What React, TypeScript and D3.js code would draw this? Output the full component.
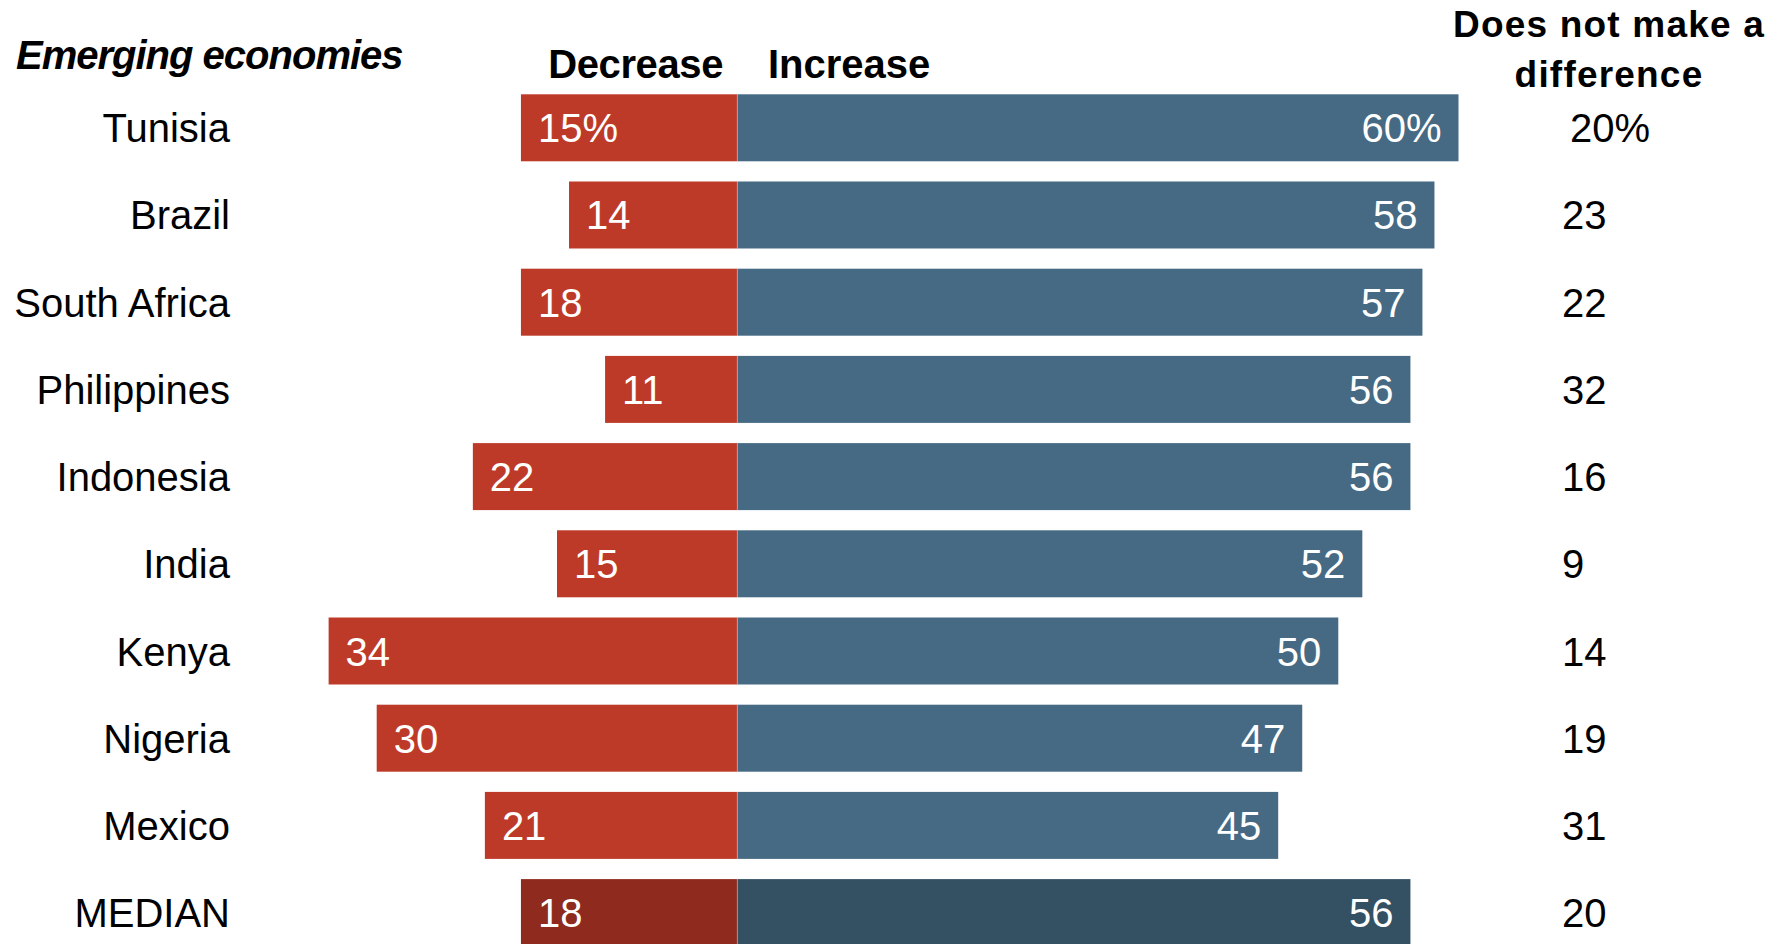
import React from "react";
import * as d3 from "d3";

const countries = ["Tunisia", "Brazil", "South Africa", "Philippines", "Indonesia", "India", "Kenya", "Nigeria", "Mexico", "MEDIAN"];
// Labels as printed
const decrease = [15, 14, 18, 11, 22, 15, 34, 30, 21, 18];
const increase = [60, 58, 57, 56, 56, 52, 50, 47, 45, 56];
const noDifference = [20, 23, 22, 32, 16, 9, 14, 19, 31, 20];
// Bar lengths as drawn in the reference (Tunisia's red bar is drawn at 18)
const decreaseBars = [18, 14, 18, 11, 22, 15, 34, 30, 21, 18];

const W = 1770;
const H = 944;
const FONT = "'Liberation Sans', Arial, Helvetica, sans-serif";

export default function App() {
  const x = d3.scaleLinear().domain([0, 60]).range([737.3, 1458.5]);
  const y = d3
    .scaleBand<string>()
    .domain(countries)
    .range([84.2, 84.2 + 872])
    .paddingInner(0.2317)
    .paddingOuter(0.1158);
  const bw = y.bandwidth();
  const isMedian = (c: string) => c === "MEDIAN";

  return (
    <svg
      width={W}
      height={H}
      style={{ position: "absolute", left: 0, top: 0, background: "#fff" }}
      fontFamily={FONT}
    >
      <text x={16} y={69} fontSize={40} fontWeight="bold" fontStyle="italic" letterSpacing={-1} fill="#000">
        Emerging economies
      </text>
      <text x={723} y={78} fontSize={40} fontWeight="bold" textAnchor="end" letterSpacing={-0.4} fill="#000">
        Decrease
      </text>
      <text x={768} y={78} fontSize={40} fontWeight="bold" textAnchor="start" letterSpacing={0} fill="#000">
        Increase
      </text>
      <text x={1609} y={37} fontSize={37} fontWeight="bold" textAnchor="middle" letterSpacing={1.2} fill="#000">
        Does not make a
      </text>
      <text x={1609} y={87} fontSize={37} fontWeight="bold" textAnchor="middle" letterSpacing={1.2} fill="#000">
        difference
      </text>

      {countries.map((c, i) => {
        const top = y(c) as number;
        const cy = top + bw / 2;
        const base = cy + 14.5;
        const med = isMedian(c);
        const x0 = x(0);
        const xl = x0 - (x(decreaseBars[i]) - x0);
        const xr = x(increase[i]);
        const pct = i === 0 ? "%" : "";
        return (
          <g key={c}>
            <rect x={xl} y={top} width={x0 - xl} height={bw} fill={med ? "#8E2A1E" : "#BE3A28"} />
            <rect x={x0} y={top} width={xr - x0} height={bw} fill={med ? "#345063" : "#466A84"} />
            <line x1={x0} x2={x0} y1={top} y2={top + bw} stroke="#ffffff" strokeOpacity={0.3} strokeWidth={1} />
            <text x={230} y={base} fontSize={40} textAnchor="end" fill="#000">
              {c}
            </text>
            <text x={xl + 17} y={base} fontSize={40} fill="#fff">
              {decrease[i] + pct}
            </text>
            <text x={xr - 17} y={base} fontSize={40} textAnchor="end" fill="#fff">
              {increase[i] + pct}
            </text>
            {i === 0 ? (
              <text x={1610} y={base} fontSize={40} textAnchor="middle" fill="#000">
                {noDifference[i] + pct}
              </text>
            ) : (
              <text x={1562} y={base} fontSize={40} textAnchor="start" fill="#000">
                {noDifference[i]}
              </text>
            )}
          </g>
        );
      })}
    </svg>
  );
}
